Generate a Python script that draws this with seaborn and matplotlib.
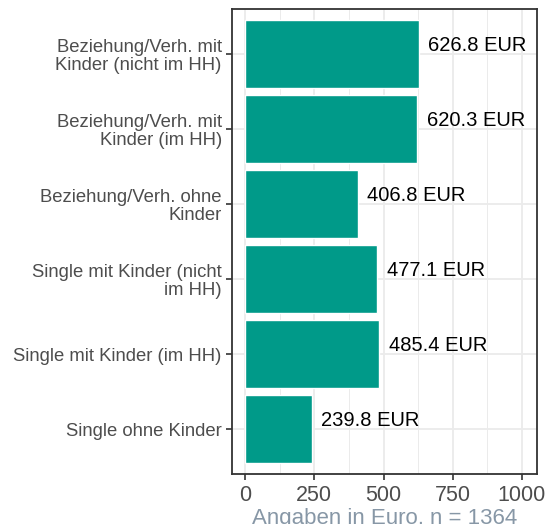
import matplotlib
matplotlib.use("Agg")
import matplotlib.pyplot as plt
from matplotlib.ticker import MultipleLocator
import seaborn as sns
import pandas as pd

# Data
categories = [
    "Beziehung/Verh. mit\nKinder (nicht im HH)",
    "Beziehung/Verh. mit\nKinder (im HH)",
    "Beziehung/Verh. ohne\nKinder",
    "Single mit Kinder (nicht\nim HH)",
    "Single mit Kinder (im HH)",
    "Single ohne Kinder",
]
values = [626.8, 620.3, 406.8, 477.1, 485.4, 239.8]
x_ticks = [0, 250, 500, 750, 1000]

df = pd.DataFrame({"kategorie": categories, "betrag": values})

sns.set_style("white")
plt.rcParams["font.family"] = ["Liberation Sans", "DejaVu Sans"]

fig, ax = plt.subplots(figsize=(5.45, 5.24), dpi=100)
fig.subplots_adjust(left=0.426, right=0.985, top=0.983, bottom=0.095)

sns.barplot(data=df, x="betrag", y="kategorie", orient="h",
            color="#009A89", saturation=1, width=0.9, ax=ax, zorder=3)

# value labels right of each bar, nudged up a little
for i, v in enumerate(values):
    ax.text(v + 35, i - 0.11, f"{v:.1f} EUR", fontsize=14.5,
            ha="left", va="center", color="black", zorder=4)

ax.set_xlim(-47, 1054)
ax.set_ylim(len(categories) - 0.4, -0.6)
ax.set_xticks(x_ticks)
ax.xaxis.set_minor_locator(MultipleLocator(125))
ax.grid(True, which="major", color="#EBEBEB", linewidth=1.3, zorder=0)
ax.grid(True, which="minor", axis="x", color="#EBEBEB", linewidth=0.7, zorder=0)
ax.set_axisbelow(True)

for s in ax.spines.values():
    s.set_color("#333333")
    s.set_linewidth(1.3)

ax.tick_params(axis="both", which="major", bottom=True, left=True, length=4.5,
               width=1.2, color="#333333", labelcolor="#4D4D4D", pad=3)
ax.tick_params(axis="x", which="minor", bottom=False, length=0)
ax.tick_params(axis="x", labelsize=15.5)
ax.tick_params(axis="y", labelsize=13.3)
for lbl in ax.get_yticklabels():
    lbl.set_horizontalalignment("right")
    lbl.set_multialignment("right")
    lbl.set_linespacing(1.05)

ax.set_ylabel("")
ax.set_xlabel("Angaben in Euro, n = 1364", fontsize=16, color="#8797A6", labelpad=2)

fig.savefig("out.png", dpi=100)
